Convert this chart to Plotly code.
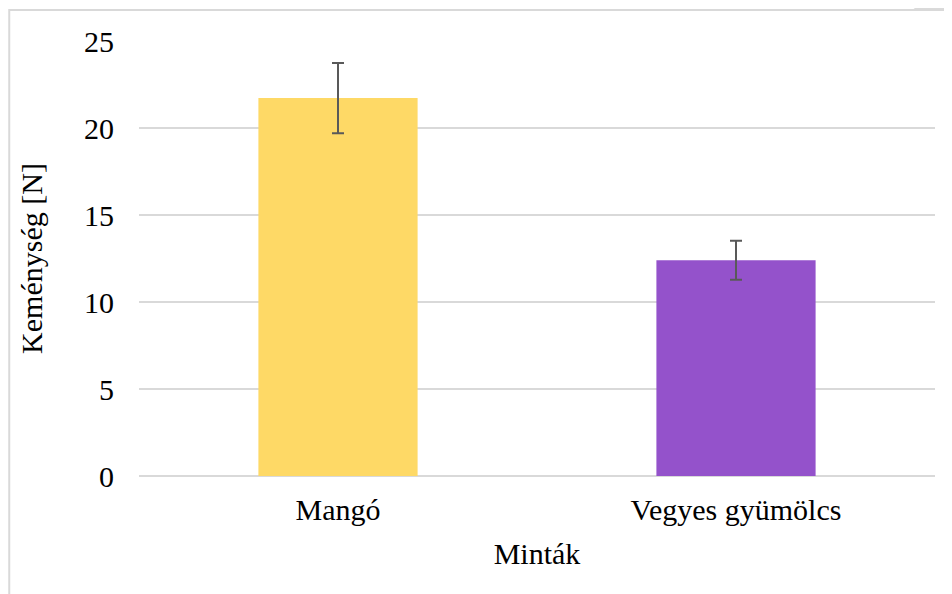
import plotly.graph_objects as go

categories = ["Mangó", "Vegyes gyümölcs"]
values = [21.72, 12.4]
errors = [2.02, 1.12]
colors = ["#FED966", "#9452CB"]
y_ticks = [0, 5, 10, 15, 20, 25]

FONT = "Liberation Serif"
FS = 30

fig = go.Figure()
fig.add_trace(go.Bar(
    x=categories,
    y=values,
    marker=dict(color=colors, line=dict(width=0)),
    width=0.4,
    error_y=dict(type="data", array=errors, visible=True,
                 color="#595959", thickness=2, width=6),
))

fig.update_layout(
    width=952, height=594,
    margin=dict(l=131, r=25, t=33, b=126),
    paper_bgcolor="white", plot_bgcolor="rgba(0,0,0,0)",
    font=dict(family=FONT, size=FS, color="black"),
    showlegend=False,
    xaxis=dict(
        title=dict(text="Minták", font=dict(family=FONT, size=FS, color="black"), standoff=17),
        showgrid=False, showline=False, ticks="",
        tickfont=dict(family=FONT, size=FS, color="black"),
        ticklabelstandoff=13,
    ),
    yaxis=dict(
        title=dict(text="Keménység [N]", font=dict(family=FONT, size=FS, color="black"), standoff=32),
        range=[0, 25], tickvals=y_ticks,
        showgrid=True, gridcolor="#D9D9D9", gridwidth=1.5,
        zeroline=True, zerolinecolor="#D9D9D9", zerolinewidth=1.5,
        showline=False, ticks="",
        tickfont=dict(family=FONT, size=FS, color="black"),
        ticklabelstandoff=24,
    ),
    shapes=[
        dict(type="circle", xref="paper", yref="paper",
             x0=0.955, x1=1.045, y0=0.925, y1=1.09,
             line=dict(width=0), fillcolor="#DADADA", layer="below"),
        dict(type="rect", xref="paper", yref="paper",
             x0=-0.163, x1=1.2, y0=-0.6, y1=1.071,
             line=dict(color="#D9D9D9", width=2), fillcolor="white",
             layer="below"),
    ],
)

fig.write_html("out.html")
